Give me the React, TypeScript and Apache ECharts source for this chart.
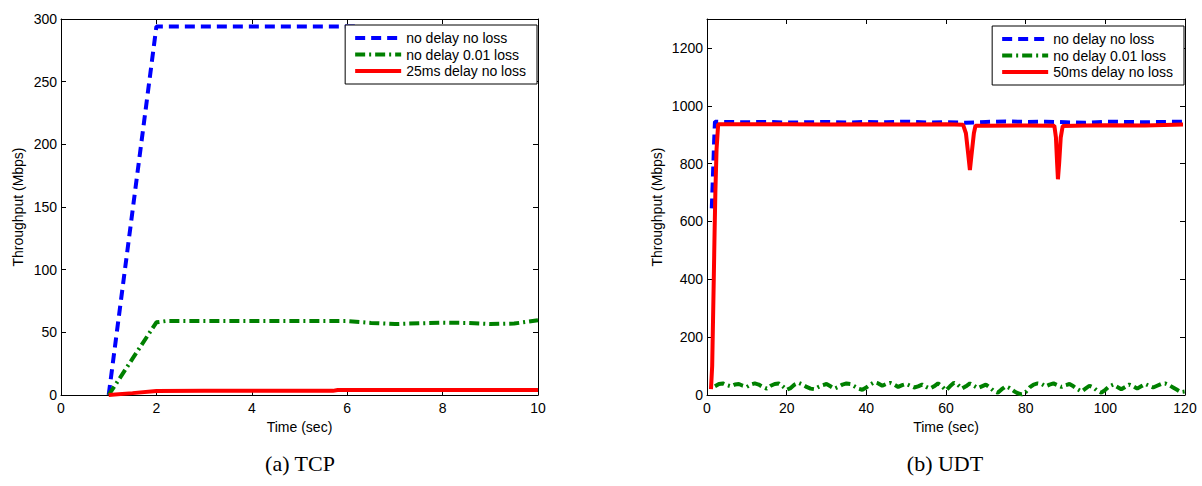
import React, { useEffect, useRef } from 'react';
import * as echarts from 'echarts';

// ---------- TCP (left) ----------
const tcpXTicks = { min: 0, max: 10, interval: 2 };
const tcpYTicks = { min: 0, max: 300, interval: 50 };

const tcpNoLossT = [1, 1.5, 2, 3, 4, 5, 6, 6.2];
const tcpNoLossV = [0, 147, 294, 294, 294, 294, 294, 294];

const tcpLossT = [1, 1.5, 2, 2.2, 3, 4, 5, 6, 6.5, 7, 7.5, 8, 8.5, 9, 9.5, 10];
const tcpLossV = [0, 29, 58, 59, 59, 59, 59, 59, 57.5, 56.6, 57.2, 57.7, 57.5, 56.6, 57, 59.6];

const tcpDelayT = [1, 1.5, 2, 3, 4, 5, 5.7, 5.8, 6, 7, 8, 9, 10];
const tcpDelayV = [0, 1.5, 3.2, 3.3, 3.3, 3.3, 3.3, 4, 4, 4, 4, 4, 4];

// ---------- UDT (right) ----------
const udtXTicks = { min: 0, max: 120, interval: 20 };
const udtYTicks = { min: 0, max: 1300, interval: 200 };

const udtNoLossT = [1.2, 1.5, 1.8, 2, 5, 10, 15, 20, 25, 30, 35, 40, 45, 50, 55, 60, 65, 70, 75, 80, 85, 90, 95, 100, 105, 110, 115, 119.5];
const udtNoLossV = [645, 760, 880, 945, 944, 943, 944, 942, 943, 944, 942, 944, 943, 945, 942, 943, 941, 944, 946, 944, 945, 943, 941, 945, 944, 943, 944, 945];

// sampled once per second, starting at t = 2 s
const udtLossStart = 2;
const udtLossV = [
  30, 38, 40, 34, 30, 36, 38, 32, 28, 36, 40, 36, 28, 22, 32, 38, 40, 30, 18,
  24, 36, 42, 36, 28, 22, 20, 28, 34, 38, 30, 22, 28, 36, 40, 38, 30, 22, 18,
  26, 36, 44, 40, 32, 38, 42, 36, 28, 34, 38, 32, 26, 30, 36, 28, 22, 30, 40,
  30, 16, 30, 42, 35, 22, 30, 40, 32, 24, 30, 36, 26, 14, 8, 20, 30, 24, 14,
  6, 2, 10, 26, 36, 40, 38, 30, 36, 40, 34, 28, 34, 38, 30, 20, 12, 22, 32,
  26, 14, 8, 18, 30, 36, 28, 20, 28, 36, 30, 22, 30, 38, 32, 26, 32, 38, 40,
  34, 26, 18, 10, 12,
];

const udtDelayT = [1.0, 1.3, 1.5, 1.7, 1.9, 2.1, 2.4, 2.8, 10, 20, 30, 40, 50, 60, 64.3, 65.0, 65.6, 66, 66.4, 67.0, 67.4, 70, 80, 87.2, 87.6, 87.9, 88.1, 88.4, 88.8, 89.3, 95, 100, 110, 119.5];
const udtDelayV = [20, 100, 250, 400, 560, 700, 850, 936, 936, 936, 935, 936, 935, 936, 934, 905, 830, 778, 830, 905, 931, 931, 932, 931, 890, 800, 746, 800, 890, 930, 932, 933, 932, 935];

const seriesNames = ['no delay no loss', 'no delay 0.01 loss'];
const tcpDelayName = '25ms delay no loss';
const udtDelayName = '50ms delay no loss';

const FONT = "'Liberation Sans', Arial, Helvetica, sans-serif";
const BLUE = '#0000ff';
const GREEN = '#008000';
const RED = '#ff0000';

const zip = (t: number[], v: number[]) => t.map((x, i) => [x, v[i]]);

function xAxes(grid: number, ticks: any) {
  const base = {
    type: 'value',
    gridIndex: grid,
    min: ticks.min,
    max: ticks.max,
    interval: ticks.interval,
    splitLine: { show: false },
    axisLine: { show: true, onZero: false, lineStyle: { color: '#000', width: 1 } },
    axisTick: { show: true, inside: true, length: 5, lineStyle: { color: '#000', width: 1 } },
  };
  return [
    {
      ...base,
      position: 'bottom',
      axisLabel: { margin: 6, fontSize: 14, color: '#000', fontFamily: FONT },
      name: 'Time (sec)',
      nameLocation: 'middle',
      nameGap: 24,
      nameTextStyle: { fontSize: 14, color: '#000', fontFamily: FONT },
    },
    { ...base, position: 'top', axisLabel: { show: false } },
  ];
}

function yAxes(grid: number, ticks: any, gap: number) {
  const base = {
    type: 'value',
    gridIndex: grid,
    min: ticks.min,
    max: ticks.max,
    interval: ticks.interval,
    splitLine: { show: false },
    axisLine: { show: true, onZero: false, lineStyle: { color: '#000', width: 1 } },
    axisTick: { show: true, inside: true, length: 5, lineStyle: { color: '#000', width: 1 } },
  };
  return [
    {
      ...base,
      position: 'left',
      axisLabel: {
        margin: 4,
        fontSize: 14,
        color: '#000',
        fontFamily: FONT,
        formatter: (v: number) => (v > 1200 ? '' : String(v)),
      },
      name: 'Throughput (Mbps)',
      nameLocation: 'middle',
      nameGap: gap,
      nameTextStyle: { fontSize: 14, color: '#000', fontFamily: FONT },
    },
    { ...base, position: 'right', axisLabel: { show: false } },
  ];
}

function line(name: string, data: number[][], color: string, dash: any, xi: number, yi: number) {
  return {
    type: 'line',
    name,
    data,
    xAxisIndex: xi,
    yAxisIndex: yi,
    symbol: 'none',
    showSymbol: false,
    color,
    lineStyle: { color, width: 4, type: dash },
  };
}

function legend(names: string[], right: number, top: number) {
  return {
    data: names,
    orient: 'vertical',
    right,
    top,
    itemWidth: 46,
    itemHeight: 14,
    itemGap: 2.5,
    padding: [6, 11, 6, 8],
    borderColor: '#000',
    borderWidth: 1,
    backgroundColor: '#fff',
    selectedMode: false,
    itemStyle: { opacity: 0 },
    lineStyle: { width: 4 },
    textStyle: { fontSize: 14, color: '#000', fontFamily: FONT },
  };
}

const DASHED = [10, 6];
const DASHDOT = [10, 4, 2, 4];

export default function App() {
  const ref = useRef<HTMLDivElement>(null);
  useEffect(() => {
    const chart = echarts.init(ref.current!, null, { renderer: 'svg' });
    const udtLossData = udtLossV.map((v, i) => [udtLossStart + i, v]);
    chart.setOption({
      animation: false,
      backgroundColor: '#fff',
      grid: [
        { left: 61, top: 19, width: 477, height: 376 },
        { left: 707, top: 19, width: 478, height: 376 },
      ],
      xAxis: [...xAxes(0, tcpXTicks), ...xAxes(1, udtXTicks)],
      yAxis: [...yAxes(0, tcpYTicks, 36), ...yAxes(1, udtYTicks, 43)],
      legend: [
        legend([seriesNames[0], seriesNames[1], tcpDelayName], 665, 25),
        legend([seriesNames[0], seriesNames[1], udtDelayName], 18, 26),
      ],
      series: [
        line(seriesNames[0], zip(tcpNoLossT, tcpNoLossV), BLUE, DASHED, 0, 0),
        line(seriesNames[1], zip(tcpLossT, tcpLossV), GREEN, DASHDOT, 0, 0),
        line(tcpDelayName, zip(tcpDelayT, tcpDelayV), RED, 'solid', 0, 0),
        line(seriesNames[0], zip(udtNoLossT, udtNoLossV), BLUE, DASHED, 2, 2),
        line(seriesNames[1], udtLossData, GREEN, DASHDOT, 2, 2),
        line(udtDelayName, zip(udtDelayT, udtDelayV), RED, 'solid', 2, 2),
      ],
      graphic: [
        {
          type: 'text',
          x: 300,
          y: 463,
          style: {
            text: '(a) TCP',
            fill: '#000',
            fontSize: 22,
            fontFamily: "'Liberation Serif', 'Times New Roman', serif",
            align: 'center',
            verticalAlign: 'middle',
          },
        },
        {
          type: 'text',
          x: 945,
          y: 463,
          style: {
            text: '(b) UDT',
            fill: '#000',
            fontSize: 22,
            fontFamily: "'Liberation Serif', 'Times New Roman', serif",
            align: 'center',
            verticalAlign: 'middle',
          },
        },
      ],
    });
    return () => chart.dispose();
  }, []);
  return (
    <div
      ref={ref}
      style={{ position: 'absolute', left: 0, top: 0, width: 1202, height: 486, background: '#fff' }}
    />
  );
}
